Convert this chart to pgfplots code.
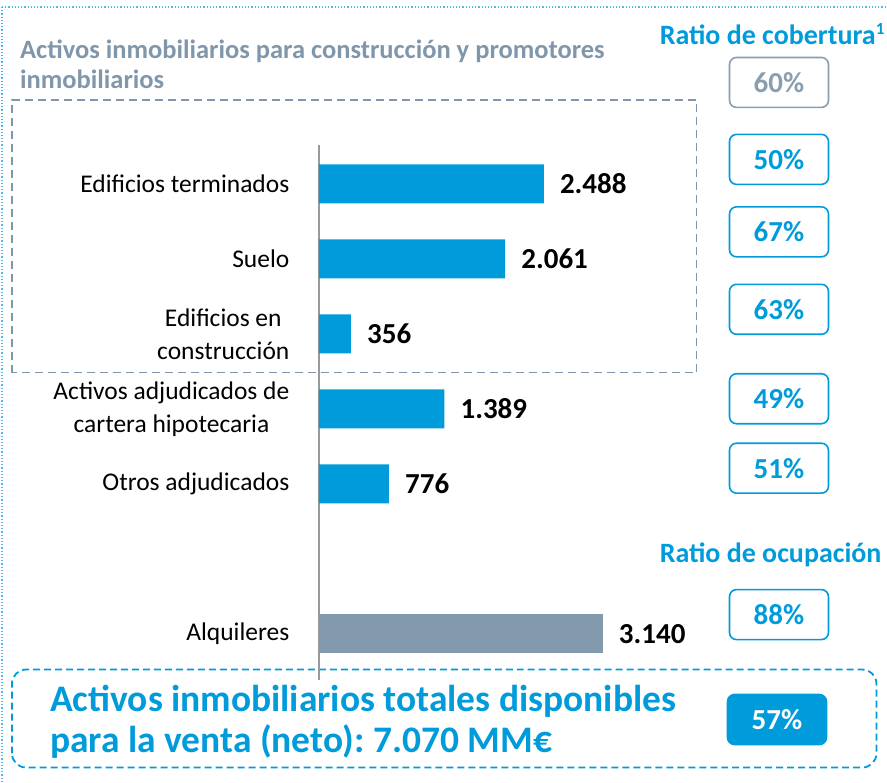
\documentclass[border=0pt]{standalone}
\usepackage{pgfplots}
\pgfplotsset{compat=1.18}
\usepackage{pgfplotstable}
\usepackage{fontspec}
\setmainfont{Carlito}
\frenchspacing
\definecolor{cbblue}{RGB}{0,155,219}
\definecolor{cbgray}{RGB}{131,153,173}
\definecolor{cbtitle}{RGB}{128,150,170}
\definecolor{cbbox}{RGB}{138,158,174}

\pgfplotstableread{
x y label
2488 0 2.488
2061 1 2.061
356 2 356
1389 3 1.389
776 4 776
}\bluedata
\pgfplotstableread{
x y label
3140 6 3.140
}\graydata

\begin{document}
\begin{tikzpicture}[x=1pt,y=1pt]
\path (0,0) rectangle (887,782);
% outer dotted frame
\draw[cbblue!70, line width=1.2pt, dotted] (2,775) -- (887,775);
\draw[cbblue!70, line width=1.2pt, dotted] (2,775) -- (2,0);
% title
\node[anchor=base west, inner sep=0pt, font=\fontsize{26.5}{32}\selectfont\bfseries, text=cbtitle] at (20,723) {Activos inmobiliarios para construcción y promotores};
\node[anchor=base west, inner sep=0pt, font=\fontsize{26.5}{32}\selectfont\bfseries, text=cbtitle] at (20,693) {inmobiliarios};
% gray dashed rectangle
\draw[cbtitle, line width=1.5pt, dash pattern=on 8pt off 5pt] (12,409) -- (12,682) -- (697,682) -- (697,409) -- cycle;
% headers
\node[anchor=base west, inner sep=0pt, font=\fontsize{28}{32}\selectfont\bfseries, text=cbblue] at (660,737) {Ratio de cobertura\raisebox{0.36em}{\fontsize{17}{17}\selectfont 1}};
\node[anchor=base west, inner sep=0pt, font=\fontsize{28}{32}\selectfont\bfseries, text=cbblue] at (660,219) {Ratio de ocupación};
% boxes
\tikzset{pbox/.style={draw=cbblue, line width=1.6pt, rounded corners=7pt, minimum width=99pt, minimum height=50pt, inner sep=0pt, font=\fontsize{29}{32}\selectfont\bfseries, text=cbblue}}
\node[pbox, draw=cbbox, text=cbbox] at (779.5,699.5) {60\%};
\node[pbox] at (779.5,622.5) {50\%};
\node[pbox] at (779.5,550) {67\%};
\node[pbox] at (779.5,472.5) {63\%};
\node[pbox] at (779.5,383) {49\%};
\node[pbox] at (779.5,313.5) {51\%};
\node[pbox] at (779.5,167) {88\%};
\node[pbox, fill=cbblue, text=white] at (777.5,62) {57\%};
% bottom dashed box
\draw[cbblue, line width=1.8pt, dash pattern=on 7pt off 4pt, rounded corners=14pt] (12,14) rectangle (877,112);
\node[anchor=base west, inner sep=0pt, font=\fontsize{37.5}{45}\selectfont\bfseries, text=cbblue] at (50,70) {Activos inmobiliarios totales disponibles};
\node[anchor=base west, inner sep=0pt, font=\fontsize{37.5}{45}\selectfont\bfseries, text=cbblue] at (50,29) {para la venta (neto): 7.070 MM€};

\begin{axis}[
  at={(319pt,102pt)}, anchor=south west,
  scale only axis, width=284.2pt, height=535pt,
  xmin=0, xmax=3140, ymin=-0.52, ymax=6.61,
  y dir=reverse,
  xbar, bar width=39pt, bar shift=0pt,
  axis x line=none,
  axis y line*=left,
  y axis line style={draw=gray!80, line width=1.5pt, -},
  ytick={0,1,2,3,4,6},
  yticklabels={Edificios terminados, Suelo, {Edificios en\\construcción}, {Activos adjudicados de\\cartera hipotecaria}, Otros adjudicados, Alquileres},
  ytick style={draw=none},
  yticklabel style={align=center, inner sep=0pt, xshift=-25pt, font=\fontsize{25.5}{33}\selectfont, text=black},
  point meta=explicit symbolic,
  nodes near coords,
  every node near coord/.append style={anchor=west, inner sep=0pt, xshift=16pt, font=\fontsize{29}{34}\selectfont\bfseries, text=black},
  clip=false,
]
\addplot[fill=cbblue, draw=none] table[x=x, y=y, meta=label] {\bluedata};
\addplot[fill=cbgray, draw=none] table[x=x, y=y, meta=label] {\graydata};
\end{axis}
\end{tikzpicture}
\end{document}
